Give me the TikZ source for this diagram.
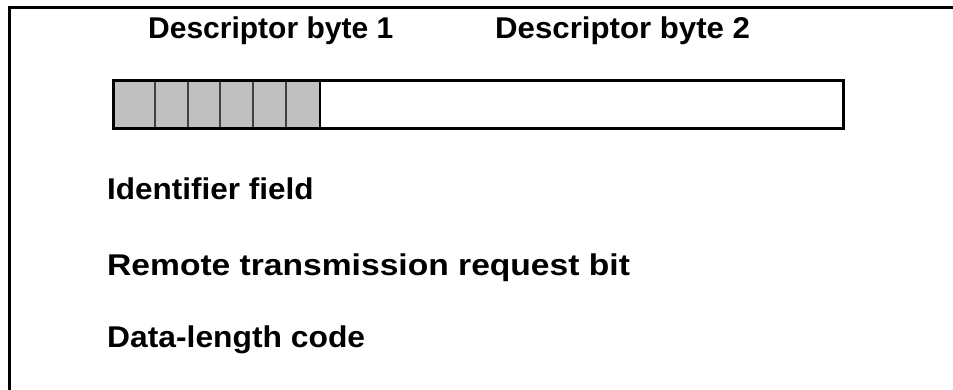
\documentclass[tikz,border=0pt]{standalone}
\usepackage{fontspec}
\usepackage{graphicx}
\setmainfont{Liberation Sans}
\definecolor{cellgray}{RGB}{192,192,192}
\begin{document}
\begin{tikzpicture}[x=1pt,y=-1pt,
  lbl/.style={anchor=base west,inner sep=0pt,font=\fontsize{30}{36}\selectfont\bfseries},
  frameline/.style={line width=3pt,line cap=rect},
  cellbox/.style={fill=cellgray,draw=black!75,line width=2pt}]
\useasboundingbox (0,0) rectangle (953,389);
% frame (top and left only)
\draw[frameline] (9,389) -- (9,7.5) -- (953,7.5);
% headings
\node[lbl] (d1) at (148,38) {Descriptor byte 1};
\node[lbl] (d2) at (495,38) {\scalebox{1.04}[1]{Descriptor byte 2}};
% shaded bit cells
\foreach \a/\b [count=\i] in {113/155,155/188,188/220,220/253,253/286,286/320}
  \draw[cellbox] (\a,80) rectangle (\b,128);
% bar outline
\draw[line width=3pt] (113,80) rectangle (843,128);
\draw[line width=2.5pt] (320,80) -- (320,128);
% field labels
\node[lbl] (idf) at (107,199) {\scalebox{1.05}[1]{Identifier field}};
\node[lbl] (rtr) at (107,275) {\scalebox{1.12}[1]{Remote transmission request bit}};
\node[lbl] (dlc) at (107,347) {\scalebox{1.06}[1]{Data-length code}};
\end{tikzpicture}
\end{document}
